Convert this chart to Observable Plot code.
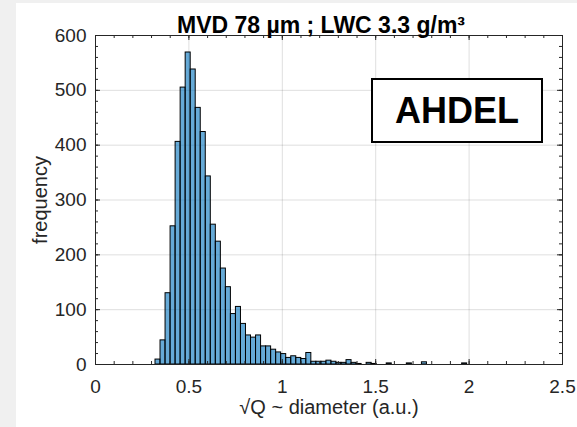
<!DOCTYPE html>
<html>
<head>
<meta charset="utf-8">
<script src="https://cdn.jsdelivr.net/npm/d3@7"></script>
<script src="https://cdn.jsdelivr.net/npm/@observablehq/plot@0.6"></script>
<style>
  html, body { margin: 0; padding: 0; background: #f0f0f0; }
  #wrap { position: relative; width: 577px; height: 427px; background: #f0f0f0; overflow: hidden; }
  #paper { position: absolute; left: 16px; top: 3px; right: 0; bottom: 0; background: #ffffff; }
  #chart { position: absolute; left: 0; top: 0; }
  #note {
    position: absolute; left: 371px; top: 78px; width: 168px; height: 61px;
    border: 2px solid #000; background: #fff;
    font: bold 36px "Liberation Sans", Arial, Helvetica, sans-serif; color: #000;
    display: flex; align-items: center; justify-content: center;
  }
</style>
</head>
<body>
<div id="wrap">
  <div id="paper"></div>
  <div id="chart"></div>
  <div id="note">AHDEL</div>
</div>
<script>
// ---- data ----
const binStart = 0.3212;
const binWidth = 0.02691;
const counts = [
  9, 44, 130, 252, 406, 505, 569, 538, 468, 424,
  343, 255, 224, 175, 141, 92, 105, 74, 53, 49,
  53, 33, 33, 27, 22, 19, 12, 15, 12, 10,
  21, 5, 5, 5, 7, 5, 3, 3, 8, 3,
  1, 0, 3, 1, 0, 0, 2, 0, 0, 0,
  2, 0, 0, 4, 0, 0, 0, 0, 0, 0,
  0, 2
];
const xTicks = [0, 0.5, 1, 1.5, 2, 2.5];
const yTicks = [0, 100, 200, 300, 400, 500, 600];
const xMinor = d3.range(0, 26).map(i => i / 10);
const yMinor = d3.range(0, 31).map(i => i * 20);
const titleText = "MVD 78 µm ; LWC 3.3 g/m³";
const xLabel = "√Q ~ diameter (a.u.)";
const yLabel = "frequency";

// ---- table ----
const bins = counts.map((c, i) => ({
  x1: binStart + i * binWidth,
  x2: binStart + (i + 1) * binWidth,
  y: c
}));

const W = 577, H = 427;
const mL = 95, mR = 15, mT = 35, mB = 63;
const plotW = W - mL - mR, plotH = H - mT - mB;
const ink = "#262626";
const font = '"Liberation Sans", Arial, Helvetica, sans-serif';

const chart = Plot.plot({
  width: W,
  height: H,
  marginLeft: mL,
  marginRight: mR,
  marginTop: mT,
  marginBottom: mB,
  style: { fontFamily: font, color: ink, background: "transparent", overflow: "visible" },
  x: { domain: [0, 2.5] },
  y: { domain: [0, 600] },
  marks: [
    Plot.gridX(xTicks, { stroke: ink, strokeOpacity: 0.15 }),
    Plot.gridY(yTicks, { stroke: ink, strokeOpacity: 0.15 }),
    Plot.rectY(bins, { x1: "x1", x2: "x2", y: "y", fill: "#0072bd", fillOpacity: 0.6, stroke: "#000", strokeWidth: 1, inset: 0 }),
    // minor ticks (inside, all four sides)
    Plot.ruleX(xMinor, { stroke: ink, insetTop: plotH - 3 }),
    Plot.ruleX(xMinor, { stroke: ink, insetBottom: plotH - 3 }),
    Plot.ruleY(yMinor, { stroke: ink, insetRight: plotW - 3 }),
    Plot.ruleY(yMinor, { stroke: ink, insetLeft: plotW - 3 }),
    // major ticks
    Plot.ruleX(xTicks, { stroke: ink, insetTop: plotH - 5 }),
    Plot.ruleX(xTicks, { stroke: ink, insetBottom: plotH - 5 }),
    Plot.ruleY(yTicks, { stroke: ink, insetRight: plotW - 5 }),
    Plot.ruleY(yTicks, { stroke: ink, insetLeft: plotW - 5 }),
    Plot.frame({ stroke: ink, strokeWidth: 1 }),
    Plot.axisX(xTicks, { anchor: "bottom", tickSize: 0, tickPadding: 15, fontSize: 19, label: null, fill: ink, tickFormat: d => String(d) }),
    Plot.axisY(yTicks, { anchor: "left", tickSize: 0, tickPadding: 9, fontSize: 19, label: null, fill: ink }),
    Plot.text([titleText], { frameAnchor: "top", dx: -8, dy: -19, fontSize: 23, fontWeight: "bold", fill: "#000" }),
    Plot.text([xLabel], { frameAnchor: "bottom", dy: 49, fontSize: 20, fill: ink }),
    Plot.text([yLabel], { frameAnchor: "left", textAnchor: "middle", dx: -55, rotate: -90, fontSize: 20, fill: ink })
  ]
});
document.getElementById("chart").appendChild(chart);
</script>
</body>
</html>
